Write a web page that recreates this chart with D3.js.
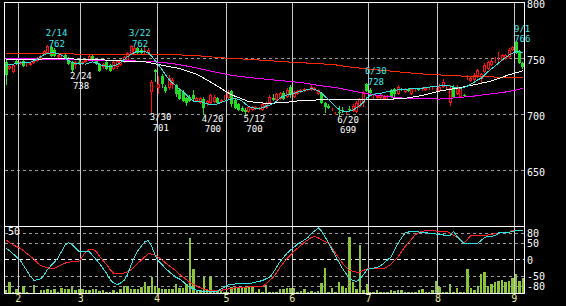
<!DOCTYPE html>
<html>
<head>
<meta charset="utf-8">
<script src="https://cdn.jsdelivr.net/npm/d3@7"></script>
<style>
body { margin: 0; background: #000; }
svg { display: block; }
text { font-family: "DejaVu Sans Mono", monospace; font-size: 10px; }
.peak { font-size: 9px; }
</style>
</head>
<body>
<svg id="chart" width="566" height="306"></svg>
<script>
var dates = ["1/26","1/27","1/28","1/31",
  "2/1","2/2","2/3","2/4","2/7","2/8","2/9","2/10","2/14","2/15","2/16","2/17","2/18","2/21","2/22","2/24","2/25","2/28",
  "3/1","3/2","3/3","3/4","3/7","3/8","3/9","3/10","3/11","3/14","3/15","3/16","3/17","3/18","3/22","3/23","3/24","3/25","3/28","3/29","3/30","3/31",
  "4/1","4/4","4/5","4/6","4/7","4/8","4/11","4/12","4/13","4/14","4/15","4/18","4/19","4/20","4/21","4/22","4/25","4/26","4/27","4/28",
  "5/2","5/6","5/9","5/10","5/11","5/12","5/13","5/16","5/17","5/18","5/19","5/20","5/23","5/24","5/25","5/26","5/27","5/30","5/31",
  "6/1","6/2","6/3","6/6","6/7","6/8","6/9","6/10","6/13","6/14","6/15","6/16","6/17","6/20","6/21","6/22","6/23","6/24","6/27","6/28","6/29","6/30",
  "7/1","7/4","7/5","7/6","7/7","7/8","7/11","7/12","7/13","7/14","7/15","7/19","7/20","7/21","7/22","7/25","7/26","7/27","7/28","7/29",
  "8/1","8/2","8/3","8/4","8/5","8/8","8/9","8/10","8/12","8/15","8/16","8/17","8/18","8/19","8/22","8/23","8/24","8/25","8/26","8/29","8/30","8/31",
  "9/1","9/2","9/5"];

var opens = [747,741,738,748,745,748,744,744,746,748,750,754,755,760,758,751,752,753,750,747,744,747,
  745,747,749,752,749,745,742,747,744,741,742,744,747,748,754,755,759,758,757,755,720,740,
  724,734,725,724,726,726,722,720,715,716,717,712,710,714,709,710,711,715,711,714,
  715,721,713,709,706,704,702,704,705,705,704,706,710,715,713,714,719,716,725,
  716,718,720,721,722,722,722,718,719,710,708,704,700.5,702,704.3,700.5,705,703,702,707,710,727,
  722,716,715,715,714,715,722,723,718,723,720,723,718,721,722.6,722,722,723,723,722,
  721,725,724,710,725,718,716,717,733,730,731,734,732,738,741,744,748,749.5,749,750,751,758,
  765,757,746];
var highs = [749,744,745,749,748,749,746,747,749,751,753,758,762,761,759,754,754,754,751,748,748,749,
  748,750,753,753,750,746,746,748,745,748,749,750,752,756,762,761,760,759,760,759,731,741,
  734,736,726,735,733,727,724,722,716,717,722,716,716,716,713,718,717,716,714,717,
  722,722,715,710,708,706,708,708,708,707,710,711,717,718,719,720,721,724,726,
  721,722,723,724,723,726,725,723,720,711,709,706,702,708,707,702,708,709,712,715,721,728,
  724,718,717,718,717,717,723,724,726,724,724,724,724,723,724,725,724,725,725,724,
  727,732,726,726,726,726,725,718,735,734,737,741,737,746,748,750,751,756,754,754,759,761,
  766,758,747];
var lows = [726,740,737,744,744,742,742,743,745,747,749,753,754,751,751,750,750,749,744,738,741,744,
  744,746,748,747,744,738,741,740,738,740,741,743,746,747,753,754,754,754,754,753,701,729,
  718,724,719,722,723,716,713,711,708,711,712,711,709,700,708,709,710,709,710,713,
  714,707,705,703,702,700,701,703,704,704,703,705,709,712,712,713,713,715,715,
  715,717,719,720,721,721,721,717,709,701,705,703,700,699,701,700,702,702,701,706,707,720,
  717,714,714,714,713,714,715,716,717,721,719,720,717,720,721,721,721,722,722,720,
  720,724,723,708,715,717,715,716,731,729,730,733,727,737,740,743,746,745,748,749,750,757,
  754,745,741];
var closes = [735,743,744,745,747,743,745,746,748,750,752,757,761,752,752,753,753,750,745,740,747,745,
  747,749,752,748,745,739,745,741,739,747,748,749,751,755,761,759,755,755,757,758,729,738,
  727,727,721,733,731,718,714,712,710,712,714,715,715,706,712,717,716,710,713,715,
  720,709,706,704,703,702,707,707,707,706,709,710,716,713,718,719,714,722,717,
  720,721,722,723,722.4,725,724,722,710,707,706,704.5,701.5,701,704,701.5,704,708,710,714,720,721,
  719,716.3,716.5,717,716,716,716,718,725,722,723,721,723,722,722.3,723,723.5,724,724,723,
  725,729,725,724,716,724,724,716.5,733.4,733,735,740,736,744,747,748,749,749.8,753,753,758,760,
  755,746,742];

var volumes = [2.2,8.5,1,2.7,0.5,5.2,1,0.3,6,0.3,2.2,2.2,2.7,2.2,2.7,1,4,3,3,4.2,2.2,2.7,
  2.7,2.2,2.2,2.7,3,1.5,2.2,1,1,2.2,0.5,3,5.2,5.2,3,3,3,4.2,8.5,5.2,12.2,5.2,
  3.5,2.7,2.7,2.7,2.7,6.7,4,3.5,6.5,40.8,17.7,2.2,2.2,12.2,2.2,11.7,1,2.2,2.2,1,
  1,4.7,4.2,4.2,3.5,3.5,4.2,4.2,1,2.7,0.5,6,1,0.5,1,2.7,3,3.5,3.5,
  3.5,0.5,1.5,2.7,1,1.5,0.5,1.5,7.2,18.4,1,3.5,0.5,8.5,5.2,4,42,8.5,2.7,35.8,2.2,6.7,
  0.5,0.5,2.2,0.5,1,1,2.2,1.2,2.2,2.2,0.5,0.5,0.5,0.5,2.5,3,0.5,1,2.2,8.8,
  4.2,0.5,0.5,6.7,0.5,4,0.5,0.5,17.9,4,2.2,5.2,14.2,15.9,5.2,6.5,8.2,8.8,9.7,8.2,8.8,10.9,
  14.2,8.8,11.4];
var volTop = 50;

var ma5 = [744,744.5,745,745.5,746,746.2,746.5,746.8,748,749.5,
  751.5,753.5,754.8,755,755,754.5,753,750.5,748,746.5,
  745.7,745.5,745.2,745,746,747,746,744.5,743.5,743,
  742.7,743.5,744.5,746.5,749,751.6,753.5,755.5,756.5,756.5,
  756,755,752,748,744,740,735,731,728,725.5,
  722.5,720.5,717.5,714,712,712,711.5,710.5,709.5,709,
  709,709.5,711,712,713,714,714.5,713.5,712,709.5,
  707,706,705.5,705.5,706,707.5,708.5,710,712,715,
  716.5,717.5,718.3,719,720,720.5,721.5,722.5,723,722.5,
  721,719,716,713,710,707,704.5,703,702.5,703,
  704,706,708,711,715,717,718,719,719,719.5,
  720.5,721,721.5,722,722.3,722.5,722.7,723,723,723,
  723.5,724,724.5,725,725.2,725.5,726,726.3,725.5,724.5,
  724,723.4,724,725.4,727,729,731,732.5,735.5,738.5,
  741,743.5,746,748.7,751,753,754.6,756,756,755];

var maDates = ["1/26","2/2","2/9","2/17","2/25","3/4","3/11","3/18","3/28","4/4","4/11","4/18","4/25","5/6","5/13","5/20",
  "5/27","6/3","6/10","6/17","6/24","7/1","7/8","7/15","7/25","8/1","8/8","8/16","8/23","8/30","9/5"];
var ma25 = [748.7,749,749.5,750,749.5,749,748.5,747.5,747,744,741,736,727,717.5,711.5,710,
  710.5,712.5,713,713,713,713.5,713.5,714.5,717,721,723.5,726.5,730,735.5,739];
var ma75 = [750,750,749.5,749,749,748.5,748,748,747.5,746.5,744.5,741.5,738,735,733,731.5,
  730,728.5,726,724,721,718,716,714.5,714,713.8,715,716.5,718.5,720.5,723.4];
var ma200 = [754.6,754.5,754.3,754.2,754,754,753.8,753.7,753.5,753.2,753.2,752.5,751.2,750,749.3,748.2,
  747.2,746.2,745.5,744.3,742,740.5,739,737.5,736.2,735.3,734.5,733.9,733.5,733.3,733.2];

var rciShort = [35,27,18,8,-1,-17,-33,-50,-62,-60,
  -57,-45,-28,-17,-6,7,25,45,52,46,
  35,25,24,24,24,12,0,-12,-27,-42,
  -60,-70,-75,-70,-62,-45,-15,8,28,42,
  55,58,40,12,-5,-15,-27,-36,-45,-53,
  -58,-66,-75,-83,-88,-93,-94,-95,-96,-96,
  -96,-95,-88,-82,-76,-74,-73,-73,-73,-73,
  -73,-70,-67,-65,-62,-57,-52,-38,-22,-5,
  8,20,30,38,48,53,60,67,80,88,
  96,86,68,50,30,10,-8,-27,-42,-58,
  -62,-65,-58,-45,-30,-27,-25,-23,-18,-9,
  0,9,30,50,66,81,84,84,84,84,
  83,82,80,79,78,76,75,74,73,86,
  70,60,50,50,50,50,50,59,68,70,
  71,73,81,82,82,83,86,89,89,89];
var rciLong = [60,52,45,40,35,27,19,10,2,-10,
  -17,-21,-24,-27,-25,-20,-15,-10,-7,-6,
  -5,-4,10,25,31,32,25,10,-3,-15,
  -30,-40,-41,-42,-40,-36,-30,-20,-10,-1,
  9,19,17,14,7,-1,-10,-18,-26,-34,
  -44,-52,-60,-68,-74,-80,-85,-88,-91,-92,
  -93,-94,-92,-90,-88,-86,-85,-84,-83,-83,
  -82,-82,-81,-81,-80,-72,-62,-53,-38,-22,
  -9,4,15,26,35,44,53,60,68,70,
  66,60,55,50,35,19,4,-11,-22,-32,
  -35,-37,-37,-32,-28,-27,-27,-27,-27,-27,
  -20,-13,-2,9,25,40,52,64,76,83,
  86,88,88,88,87,87,87,86,80,74,
  68,58,50,62,73,73,73,73,73,75,
  77,79,81,83,83,83,89,89,89,89];

var priceTicks = [650, 700, 750, 800];
var rciTicks = [80, 50, 0, -50, -80];
var monthStarts = ["2/1","3/1","4/1","5/2","6/1","7/1","8/1","9/1"];
var monthLabels = ["2","3","4","5","6","7","8","9"];
var peakDates = ["2/14","2/24","3/22","3/30","4/20","5/12","6/20","6/30","9/1"];
var peakValues = [762,738,762,701,700,700,699,728,766];
var peakKinds = ["high","low","high","low","low","low","low","high","high"];

var svg = d3.select("#chart");
svg.append("rect").attr("width", 566).attr("height", 306).attr("fill", "#000");

var xScale = d3.scaleBand().domain(dates).range([4.43, 524.7]),
    bw = xScale.bandwidth(),
    yPrice = d3.scaleLinear().domain([600, 800]).range([226.5, 2.5]),
    yRci = d3.scaleLinear().domain([-100, 100]).range([292.9, 226.7]),
    yVol = d3.scaleLinear().domain([0, volTop]).range([293, 226]);

function cx(d) { return xScale(d) + bw / 2; }
function px(v) { return Math.floor(v) + 0.5; }

var candles = dates.map(function(d, i) {
    return {date: d, o: opens[i], h: highs[i], l: lows[i], c: closes[i], v: volumes[i]};
});

svg.append("clipPath").attr("id", "mainClip")
    .append("rect").attr("x", 4.5).attr("y", 2.5).attr("width", 520).attr("height", 224);
svg.append("clipPath").attr("id", "subClip")
    .append("rect").attr("x", 4.5).attr("y", 226.5).attr("width", 520).attr("height", 67);

// grid lines
var grid = svg.append("g").attr("shape-rendering", "crispEdges");
grid.selectAll(".pgrid")
    .data(priceTicks.filter(function(t) { return t < 800; }))
    .enter().append("line")
    .attr("x1", 4.5).attr("x2", 524.5)
    .attr("y1", function(t) { return px(yPrice(t)); })
    .attr("y2", function(t) { return px(yPrice(t)); })
    .attr("stroke", "#9a9a9a")
    .attr("stroke-dasharray", "3,3");

grid.selectAll(".rgrid")
    .data(rciTicks)
    .enter().append("line")
    .attr("x1", 4.5).attr("x2", 524.5)
    .attr("y1", function(t) { return px(yRci(t)); })
    .attr("y2", function(t) { return px(yRci(t)); })
    .attr("stroke", function(t) { return t === 0 ? "#f0f0f0" : "#9a9a9a"; })
    .attr("stroke-dasharray", function(t) { return t === 0 ? "4,3" : "3,3"; });

grid.selectAll(".mline")
    .data(monthStarts)
    .enter().append("line")
    .attr("x1", function(d) { return px(xScale(d)); })
    .attr("x2", function(d) { return px(xScale(d)); })
    .attr("y1", 2.5).attr("y2", 293.5)
    .attr("stroke", "#c8c8c8");

// volume
svg.append("g").attr("clip-path", "url(#subClip)").attr("shape-rendering", "crispEdges")
    .selectAll("rect")
    .data(candles)
    .enter().append("rect")
    .attr("x", function(d) { return xScale(d.date) + 0.4; })
    .attr("width", bw - 1)
    .attr("y", function(d) { return yVol(d.v); })
    .attr("height", function(d) { return Math.max(0.6, yVol(0) - yVol(d.v)); })
    .attr("fill", "#8cc43c");

// candles
var cg = svg.append("g").attr("clip-path", "url(#mainClip)").attr("shape-rendering", "crispEdges");
var candle = cg.selectAll(".candle").data(candles).enter().append("g");

candle.append("line")
    .attr("x1", function(d) { return px(cx(d.date)); })
    .attr("x2", function(d) { return px(cx(d.date)); })
    .attr("y1", function(d) { return yPrice(d.h); })
    .attr("y2", function(d) { return yPrice(d.l); })
    .attr("stroke", function(d) { return d.c >= d.o ? "#ff1010" : "#22dd22"; });

candle.filter(function(d) { return d.c >= d.o; })
    .append("rect")
    .attr("x", function(d) { return Math.floor(cx(d.date)) - 0.5; })
    .attr("width", 2)
    .attr("y", function(d) { return Math.round(yPrice(d.c)) + 0.5; })
    .attr("height", function(d) { return Math.max(0, Math.round(yPrice(d.o)) - Math.round(yPrice(d.c)) - 1); })
    .attr("fill", "#000")
    .attr("stroke", "#ff1010");

candle.filter(function(d) { return d.c < d.o; })
    .append("rect")
    .attr("x", function(d) { return Math.floor(cx(d.date)) - 1; })
    .attr("width", 3)
    .attr("y", function(d) { return yPrice(d.o); })
    .attr("height", function(d) { return Math.max(1, yPrice(d.c) - yPrice(d.o)); })
    .attr("fill", "#22dd22");

// moving averages
var lines = svg.append("g").attr("clip-path", "url(#mainClip)")
    .attr("fill", "none").attr("shape-rendering", "crispEdges");

var maLine = d3.line()
    .x(function(d) { return cx(d[0]); })
    .y(function(d) { return yPrice(d[1]); });

function pairs(ds, vs) { return ds.map(function(d, i) { return [d, vs[i]]; }); }

lines.append("path").attr("d", maLine(pairs(maDates, ma200))).attr("stroke", "#ff2a00");
lines.append("path").attr("d", maLine(pairs(maDates, ma75))).attr("stroke", "#ff00ff");
lines.append("path").attr("d", maLine(pairs(maDates, ma25))).attr("stroke", "#ffffff");
lines.append("path").attr("d", maLine(pairs(dates, ma5))).attr("stroke", "#33e0e0");

// rci
var rciLine = d3.line()
    .x(function(d) { return cx(d[0]); })
    .y(function(d) { return yRci(d[1]); });

var rg = svg.append("g").attr("clip-path", "url(#subClip)")
    .attr("fill", "none").attr("shape-rendering", "crispEdges");
rg.append("path").attr("d", rciLine(pairs(dates, rciLong))).attr("stroke", "#ff2020");
rg.append("path").attr("d", rciLine(pairs(dates, rciShort))).attr("stroke", "#33e0e0");

// high / low labels
var peaks = peakDates.map(function(d, i) { return {date: d, value: peakValues[i], kind: peakKinds[i]}; });
var pl = svg.append("g");
peaks.forEach(function(p) {
    var x0 = cx(p.date) - 2,
        yv = yPrice(p.value),
        col = p.kind === "high" ? "#40e8e8" : "#ffffff",
        y1 = p.kind === "high" ? yv - 9 : yv + 7,
        y2 = p.kind === "high" ? yv + 1.5 : yv + 17.5;
    pl.append("text").attr("class", "peak").attr("x", x0).attr("y", y1).attr("fill", col).text(p.date);
    pl.append("text").attr("class", "peak").attr("x", x0 + p.date.length * 2.75).attr("y", y2)
        .attr("text-anchor", "middle").attr("fill", col).text(p.value);
});

// frames
var frame = svg.append("g").attr("fill", "none").attr("stroke", "#fff").attr("shape-rendering", "crispEdges");
frame.append("rect").attr("x", 4.5).attr("y", 2.5).attr("width", 520).attr("height", 224);
frame.append("rect").attr("x", 4.5).attr("y", 226.5).attr("width", 520).attr("height", 67);

// axes
var pAxis = svg.append("g")
    .attr("transform", "translate(525,2)")
    .call(d3.axisRight(yPrice).tickValues(priceTicks).tickSize(0).tickPadding(2)
        .tickFormat(function(d) { return String(d); }));
pAxis.select(".domain").remove();
pAxis.selectAll("text").attr("fill", "#fff").style("font-family", "DejaVu Sans Mono").style("font-size", "10px");

var rAxis = svg.append("g")
    .attr("transform", "translate(525,0)")
    .call(d3.axisRight(yRci).tickValues(rciTicks).tickSize(0).tickPadding(2)
        .tickFormat(function(d) { return String(d); }));
rAxis.select(".domain").remove();
rAxis.selectAll("text").attr("fill", "#fff").style("font-family", "DejaVu Sans Mono").style("font-size", "10px");

var mAxis = svg.append("g")
    .attr("transform", "translate(" + (-bw / 2) + ",293)")
    .call(d3.axisBottom(xScale).tickValues(monthStarts).tickSize(0).tickPadding(2)
        .tickFormat(function(d) { return monthLabels[monthStarts.indexOf(d)]; }));
mAxis.select(".domain").remove();
mAxis.selectAll("text").attr("fill", "#ecec9c").style("font-family", "DejaVu Sans Mono").style("font-size", "10px");

svg.append("text")
    .attr("x", 8).attr("y", yVol(volTop) + 9)
    .attr("fill", "#fff")
    .text(volTop);
</script>
</body>
</html>
